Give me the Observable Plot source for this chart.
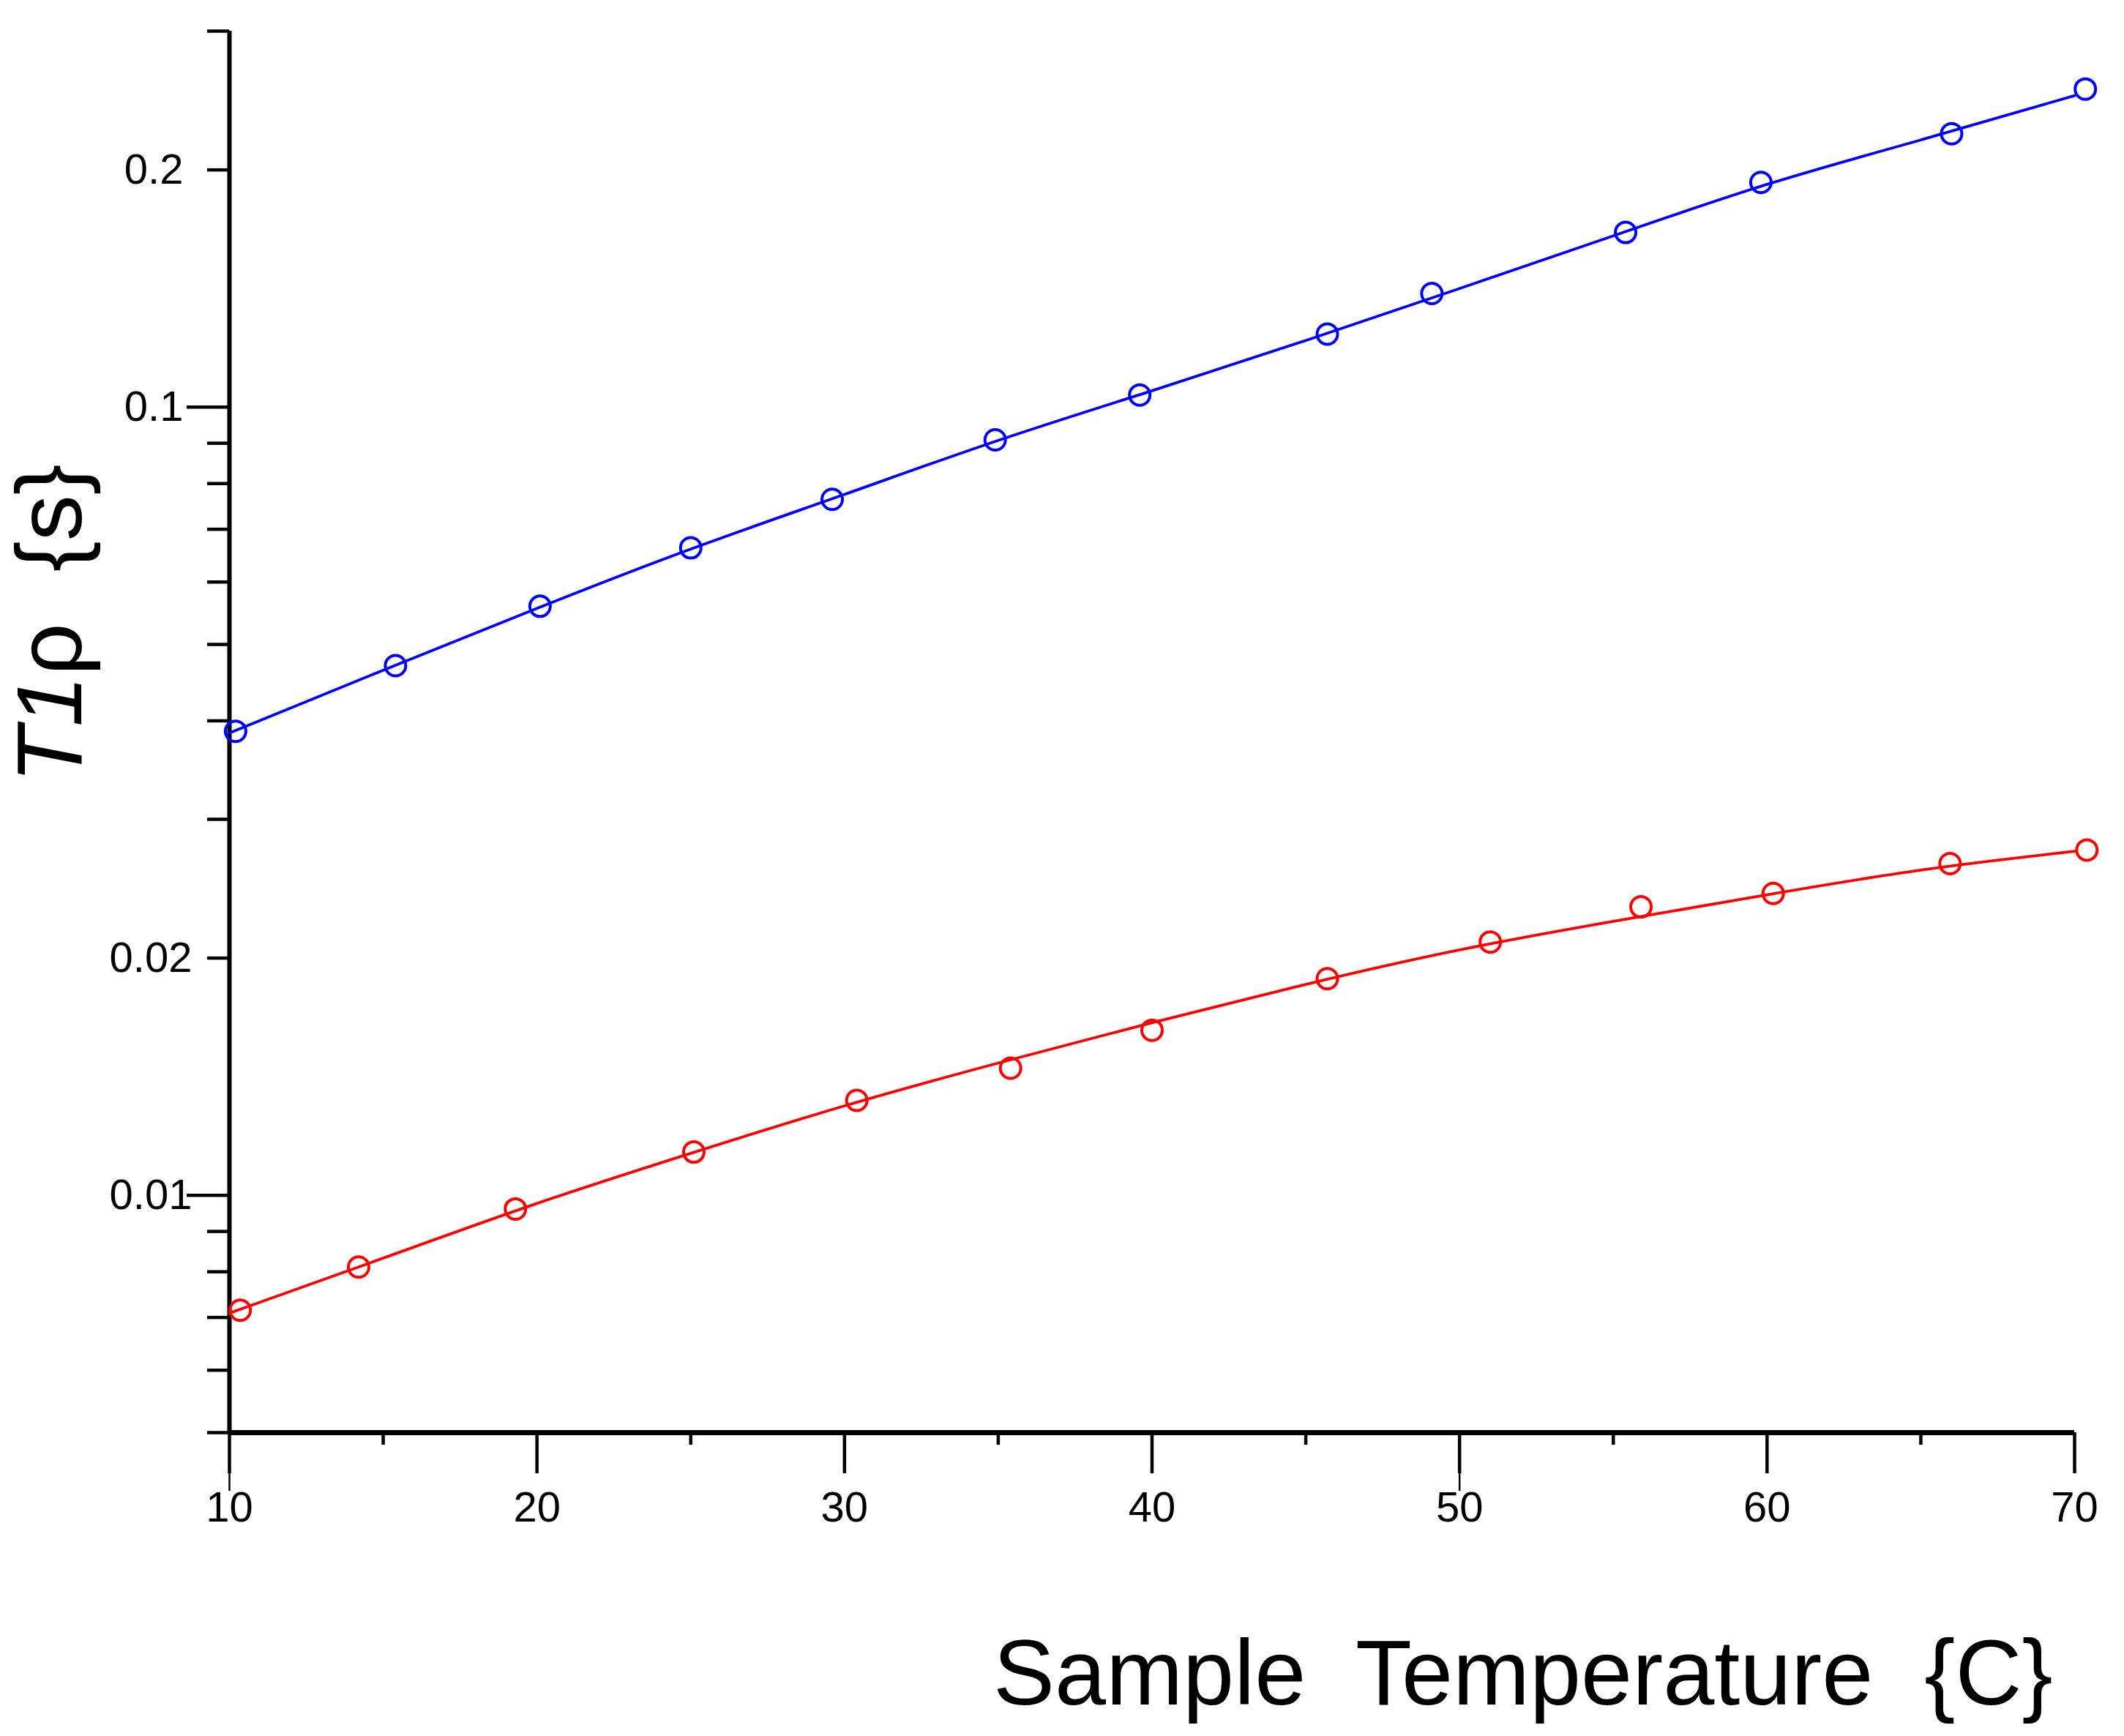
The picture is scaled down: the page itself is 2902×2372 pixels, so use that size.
<!DOCTYPE html>
<html>
<head>
<meta charset="utf-8">
<script src="https://cdn.jsdelivr.net/npm/d3@7"></script>
<script src="https://cdn.jsdelivr.net/npm/@observablehq/plot@0.6"></script>
<style>
  html, body { margin: 0; padding: 0; background: #fff; }
</style>
</head>
<body>
<div id="chart"></div>
<script>
// Measured T1ρ (s) against sample temperature (°C), two samples
const bluePointTemps = [10.2, 15.4, 20.1, 25.0, 29.6, 34.9, 39.6, 45.7, 49.1, 55.4, 59.8, 66.0, 70.35];
const bluePointT1rho = [0.0388, 0.0470, 0.0559, 0.0663, 0.0764, 0.0909, 0.1036, 0.1238, 0.1394, 0.1666, 0.1928, 0.2223, 0.2533];

const redPointTemps = [10.35, 14.2, 19.3, 25.1, 30.4, 35.4, 40.0, 45.7, 51.0, 55.9, 60.2, 65.95, 70.4];
const redPointT1rho = [0.00715, 0.00811, 0.00961, 0.01135, 0.0132, 0.0145, 0.0162, 0.01883, 0.02096, 0.02323, 0.02416, 0.02636, 0.02742];

// Fitted curves, sampled across the temperature range
const fitTemps = [10, 15, 20, 25, 30, 35, 40, 45, 50, 55, 60, 65, 70];
const blueFitT1rho = [0.0386, 0.0464, 0.0556, 0.0663, 0.0774, 0.0911, 0.1048, 0.1214, 0.1414, 0.1649, 0.1928, 0.2180, 0.2485];
const redFitT1rho = [0.00709, 0.00832, 0.00980, 0.01131, 0.01303, 0.01473, 0.01658, 0.01855, 0.02056, 0.02228, 0.02407, 0.02598, 0.02732];

// Axis ticks
const xMajorTicks = [10, 20, 30, 40, 50, 60, 70];
const xMinorTicks = [15, 25, 35, 45, 55, 65];
const xLongTicks = [10, 50];
const yDecadeTicks = [0.1, 0.01];
const yShortTicks = [0.3, 0.2, 0.09, 0.08, 0.07, 0.06, 0.05, 0.04, 0.03, 0.02,
                     0.009, 0.008, 0.007, 0.006, 0.005];
const yLabelsNarrow = [0.2, 0.1];
const yLabelsWide = [0.02, 0.01];

const xTitle = "Sample  Temperature  {C}";
const yTitle = "T1ρ  {s}";

const BLUE = "#0000ff";
const RED = "#ff0000";

const bluePoints = bluePointTemps.map((t, i) => ({t, v: bluePointT1rho[i]}));
const redPoints = redPointTemps.map((t, i) => ({t, v: redPointT1rho[i]}));
const blueFit = fitTemps.map((t, i) => ({t, v: blueFitT1rho[i]}));
const redFit = fitTemps.map((t, i) => ({t, v: redFitT1rho[i]}));

const blank = () => "";

const chart = Plot.plot({
  width: 2902,
  height: 2372,
  marginLeft: 313,
  marginRight: 68,
  marginTop: 42,
  marginBottom: 415,
  style: "font-family: 'Liberation Sans', Arial, Helvetica, sans-serif; background: #fff; overflow: visible; white-space: pre; color: #000;",
  x: {domain: [10, 70], axis: null},
  y: {type: "log", domain: [0.005, 0.3], axis: null},
  marks: [
    // axis frame lines
    Plot.ruleX([10], {stroke: "#000", strokeWidth: 6}),
    Plot.ruleY([0.005], {stroke: "#000", strokeWidth: 7}),

    // x ticks and labels
    Plot.axisX(xLongTicks, {tickSize: 80, strokeWidth: 2.5, tickFormat: blank, label: null}),
    Plot.axisX(xMajorTicks, {tickSize: 56, strokeWidth: 4.5, tickPadding: 24, fontSize: 58, tickFormat: d => String(d), label: null}),
    Plot.axisX(xMinorTicks, {tickSize: 17, strokeWidth: 4.5, tickFormat: blank, label: null}),

    // y ticks and labels
    Plot.axisY(yDecadeTicks, {tickSize: 58, strokeWidth: 4.5, tickFormat: blank, label: null}),
    Plot.axisY(yShortTicks, {tickSize: 30, strokeWidth: 4.5, tickFormat: blank, label: null}),
    Plot.axisY(yLabelsNarrow, {tickSize: 0, tickPadding: 63, fontSize: 58, tickFormat: d => String(d), label: null}),
    Plot.axisY(yLabelsWide, {tickSize: 0, tickPadding: 51, fontSize: 58, tickFormat: d => String(d), label: null}),

    // fitted curves
    Plot.line(blueFit, {x: "t", y: "v", stroke: BLUE, strokeWidth: 3.8, curve: "basis"}),
    Plot.line(redFit, {x: "t", y: "v", stroke: RED, strokeWidth: 3.8, curve: "basis"}),

    // measured points
    Plot.dot(bluePoints, {x: "t", y: "v", r: 14, stroke: BLUE, strokeWidth: 4, fill: "none"}),
    Plot.dot(redPoints, {x: "t", y: "v", r: 14, stroke: RED, strokeWidth: 4, fill: "none"}),

    // axis titles
    Plot.text([xTitle], {text: d => d, frameAnchor: "bottom-right", textAnchor: "end", lineAnchor: "middle", dx: -30, dy: 331, fontSize: 126}),
    Plot.text([yTitle], {text: d => d, frameAnchor: "left", rotate: -90, textAnchor: "middle", lineAnchor: "middle", dx: -243, dy: -148, fontSize: 126})
  ]
});

document.getElementById("chart").appendChild(chart);

// Set "T1" in italics within the vertical title
d3.select(chart).selectAll("text")
  .filter(function () { return this.textContent === yTitle; })
  .each(function () {
    const t = d3.select(this);
    t.text(null);
    t.append("tspan").attr("font-style", "italic").text("T1");
    t.append("tspan").text("ρ  {s}");
  });
</script>
</body>
</html>
